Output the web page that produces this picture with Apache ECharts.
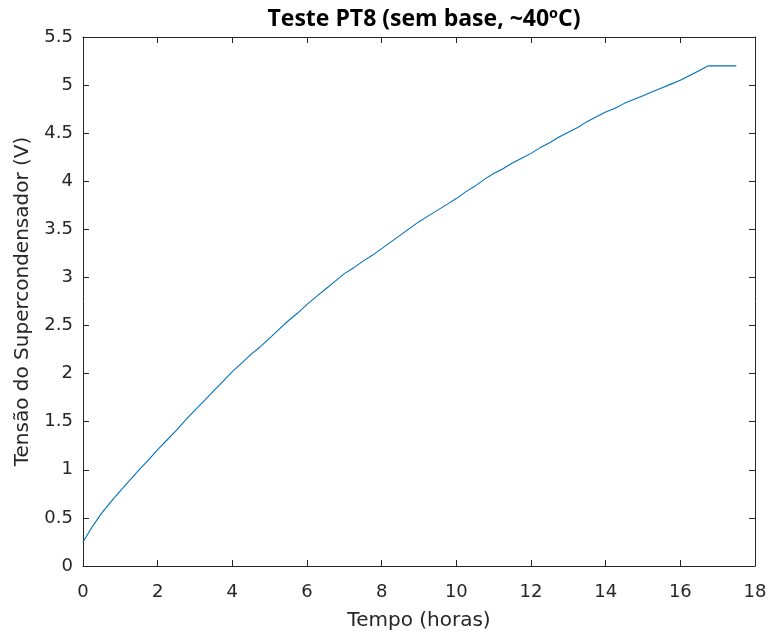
<!DOCTYPE html>
<html>
<head>
<meta charset="utf-8">
<script src="https://cdn.jsdelivr.net/npm/echarts@6/dist/echarts.min.js"></script>
<style>
html,body{margin:0;padding:0;background:#fff;}
#chart{width:769px;height:631px;}
</style>
</head>
<body>
<div id="chart"></div>
<script>
const titleText = 'Teste PT8 (sem base, ~40ºC)';
const xName = 'Tempo (horas)';
const yName = 'Tensão do Supercondensador (V)';
const timeHours = [0,0.25,0.5,0.75,1,1.25,1.5,1.75,2,2.25,2.5,2.75,3,3.25,3.5,3.75,4,4.25,4.5,4.75,5,5.25,5.5,5.75,6,6.25,6.5,6.75,7,7.25,7.5,7.75,8,8.25,8.5,8.75,9,9.25,9.5,9.75,10,10.25,10.5,10.75,11,11.25,11.5,11.75,12,12.25,12.5,12.75,13,13.25,13.5,13.75,14,14.25,14.5,14.75,15,15.25,15.5,15.75,16,16.25,16.5,16.75,17,17.25,17.5];
const voltage = [0.25,0.41,0.55,0.67,0.78,0.89,1.00,1.10,1.21,1.31,1.41,1.52,1.62,1.72,1.82,1.92,2.02,2.11,2.20,2.28,2.37,2.46,2.55,2.63,2.72,2.80,2.88,2.96,3.04,3.10,3.17,3.23,3.30,3.37,3.44,3.51,3.58,3.64,3.70,3.76,3.82,3.89,3.95,4.02,4.08,4.13,4.19,4.24,4.29,4.35,4.40,4.46,4.51,4.56,4.62,4.67,4.72,4.76,4.81,4.85,4.89,4.93,4.97,5.01,5.05,5.10,5.15,5.20,5.20,5.20,5.20];
const xMin = 0, xMax = 18, xStep = 2;
const yMin = 0, yMax = 5.5, yStep = 0.5;

const seriesData = timeHours.map((t, i) => [t, voltage[i]]);
const axisColor = '#262626';
const titleFont = 'Open Sans, Liberation Sans, Arial, sans-serif';
const font = 'DejaVu Sans, Liberation Sans, sans-serif';

function boxAxis(extra) {
  return Object.assign({
    type: 'value',
    axisLine: {show: true, onZero: false, lineStyle: {color: axisColor, width: 1}},
    axisTick: {show: true, inside: true, length: 6, lineStyle: {color: axisColor}},
    splitLine: {show: false}
  }, extra);
}

const chart = echarts.init(document.getElementById('chart'), null, {renderer: 'canvas'});
chart.setOption({
  animation: false,
  backgroundColor: '#fff',
  title: {
    text: titleText, left: 419, top: 3, textAlign: 'center',
    textStyle: {fontFamily: titleFont, fontSize: 23, fontWeight: 'bold', color: '#000'}
  },
  grid: {left: 83, right: 14, top: 37, bottom: 65, show: false, containLabel: false, outerBoundsMode: 'none'},
  xAxis: [
    boxAxis({min: xMin, max: xMax, interval: xStep, position: 'bottom',
      name: xName, nameLocation: 'middle', nameGap: 45,
      nameTextStyle: {fontFamily: font, fontSize: 20, color: axisColor},
      axisLabel: {fontFamily: font, fontSize: 18, color: axisColor, margin: 17}}),
    boxAxis({min: xMin, max: xMax, interval: xStep, position: 'top', axisLabel: {show: false}})
  ],
  yAxis: [
    boxAxis({min: yMin, max: yMax, interval: yStep, position: 'left',
      name: yName, nameLocation: 'middle', nameGap: 50, nameRotate: 90,
      nameTextStyle: {fontFamily: font, fontSize: 20, color: axisColor},
      axisLabel: {fontFamily: font, fontSize: 18, color: axisColor, margin: 10}}),
    boxAxis({min: yMin, max: yMax, interval: yStep, position: 'right', axisLabel: {show: false}})
  ],
  series: [{
    type: 'line', data: seriesData, xAxisIndex: 0, yAxisIndex: 0,
    showSymbol: false, smooth: false,
    lineStyle: {color: '#0072BD', width: 1.1}
  }]
});
</script>
</body>
</html>
